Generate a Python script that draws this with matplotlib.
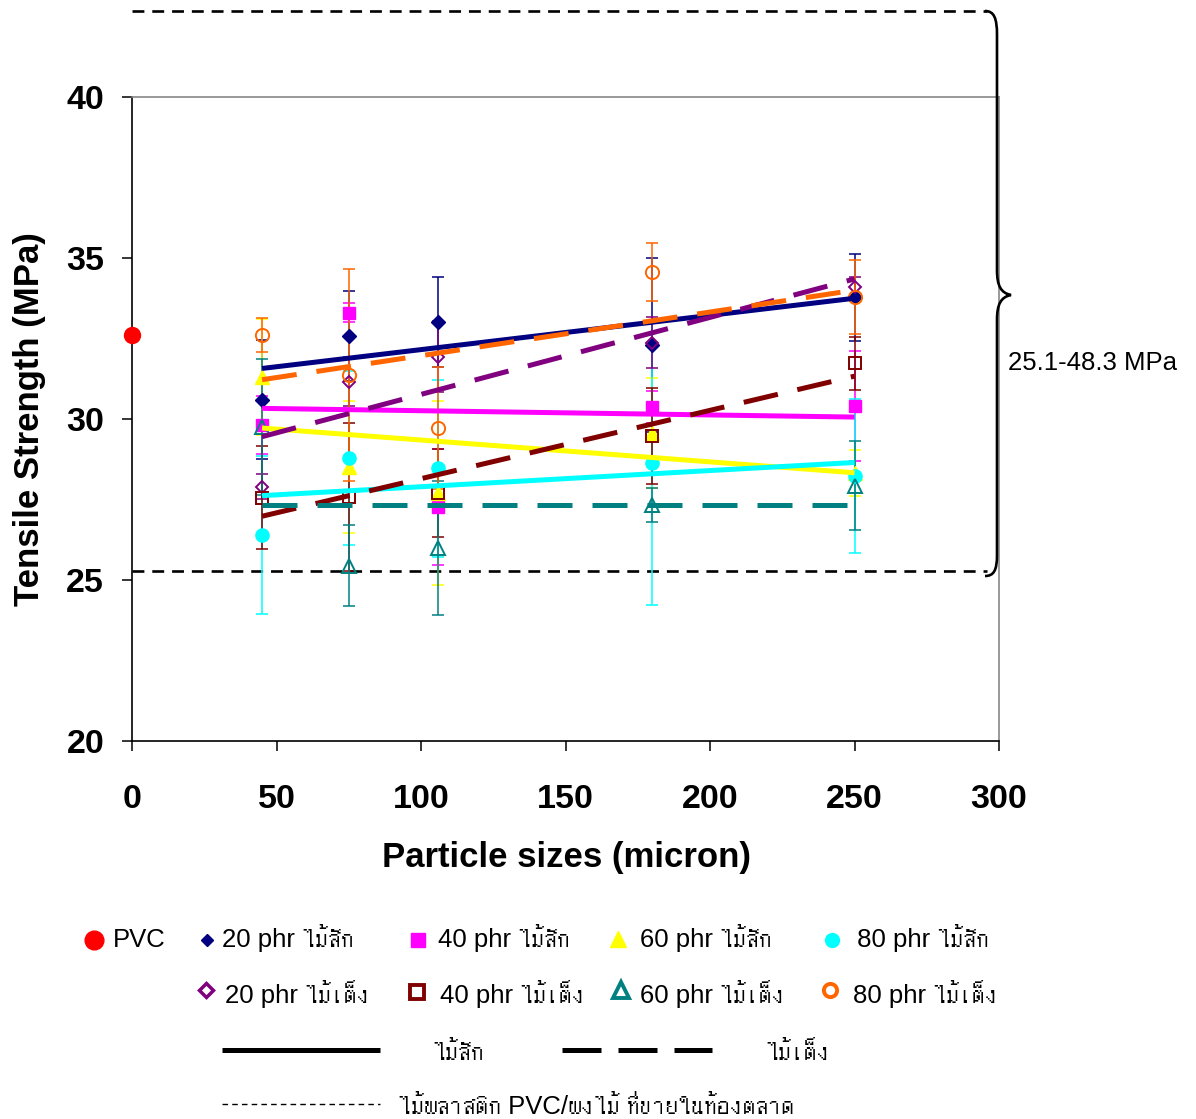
import numpy as np
import matplotlib
matplotlib.use("Agg")
import matplotlib.pyplot as plt
from matplotlib import font_manager as fm
from matplotlib.ft2font import FT2Font
from matplotlib.path import Path
from matplotlib.patches import PathPatch

# ---------------- data ----------------
x_sizes = [45, 75, 106, 180, 250]
pvc_x = [0]
pvc_y = [32.6]

teak20 = [30.6, 32.58, 33.02, 32.3, 33.78]
teak20_err = [1.85, 1.4, 1.4, 2.7, 1.35]
teak40 = [29.8, 33.3, 27.28, 30.38, 30.41]
teak40_err = [0.9, 0.3, 1.8, 0.5, 1.7]
teak60 = [31.3, 28.52, 27.7, 29.56, 28.33]
teak60_err = [1.8, 2.05, 2.85, 1.7, 0.72]
teak80 = [26.4, 28.79, 28.47, 28.62, 28.23]
teak80_err = [2.45, 2.7, 2.75, 4.4, 2.4]
teng20 = [27.9, 31.16, 31.93, 32.37, 34.1]
teng20_err = [0.4, 0.75, 1.1, 0.8, 0.3]
teng40 = [27.55, 27.59, 27.69, 29.47, 31.73]
teng40_err = [1.6, 2.3, 1.37, 1.5, 0.82]
teng60 = [29.75, 25.45, 25.99, 27.34, 27.93]
teng60_err = [2.1, 1.25, 2.07, 0.53, 1.38]
teng80 = [32.6, 31.37, 29.73, 34.57, 33.78]
teng80_err = [0.53, 3.3, 1.9, 0.9, 1.15]

# trend lines (start / end values)
trend_x = [45, 250]
teak20_trend = [31.57, 33.75]
teak40_trend = [30.33, 30.06]
teak60_trend = [29.72, 28.33]
teak80_trend = [27.62, 28.65]
teng20_trend = [29.45, 34.35]
teng40_trend = [26.98, 31.33]
teng60_trend = [27.33, 27.33]
teng80_trend = [31.22, 34.0]

# market reference band
ref_x = [0, 296]
ref_low = 25.28
ref_high = 42.67
ref_text = "25.1-48.3 MPa"

x_ticks = [0, 50, 100, 150, 200, 250, 300]
y_ticks = [20, 25, 30, 35, 40]
x_label = "Particle sizes (micron)"
y_label = "Tensile Strength (MPa)"

legend_labels = ["PVC", "20 phr ไม้สัก", "40 phr ไม้สัก", "60 phr ไม้สัก", " 80 phr ไม้สัก",
                 "20 phr ไม้เต็ง", "40 phr ไม้เต็ง", "60 phr ไม้เต็ง", "80 phr ไม้เต็ง"]
legend_teak = "ไม้สัก"
legend_teng = "ไม้เต็ง"
legend_market = "ไม้พลาสติก PVC/ผงไม้ ที่ขายในท้องตลาด"

# ---------------- fonts ----------------
def find_thai_family():
    cands = []
    for f in fm.fontManager.ttflist:
        try:
            cmap = FT2Font(f.fname).get_charmap()
        except Exception:
            continue
        if all(c in cmap for c in (0x0E44, 0x0E49, 0x0E2A, 0x0E31, 0x0E01)):
            score = 0
            if str(f.weight) in ("400", "normal", "regular", "book"):
                score += 2
            if f.style == "normal":
                score += 1
            cands.append((score, f.name))
    if cands:
        cands.sort(reverse=True)
        return cands[0][1]
    return None

thai = find_thai_family()
fam = ["Liberation Sans"] + ([thai] if thai else []) + ["DejaVu Sans"]
plt.rcParams["font.family"] = fam

# ---------------- figure ----------------
W, H = 1196, 1119
fig = plt.figure(figsize=(W / 100, H / 100), dpi=100)
ax = fig.add_axes([132 / W, 1 - 741 / H, 867 / W, 644 / H])
ax.set_xlim(0, 300)
ax.set_ylim(20, 40)

series = [
    (teak20, teak20_err, "#000080", "D", 7.0, True),
    (teak40, teak40_err, "#FF00FF", "s", 9.0, True),
    (teak60, teak60_err, "#FFFF00", "^", 10.0, True),
    (teak80, teak80_err, "#00FFFF", "o", 9.5, True),
    (teng20, teng20_err, "#800080", "D", 6.3, False),
    (teng40, teng40_err, "#800000", "s", 8.5, False),
    (teng60, teng60_err, "#008080", "^", 10.0, False),
    (teng80, teng80_err, "#FF6600", "o", 9.5, False),
]

ax.plot(pvc_x, pvc_y, "o", color="#FF0000", ms=11.5, clip_on=False, zorder=6)

for vals, errs, col, mk, ms, filled in series:
    ax.errorbar(x_sizes, vals, yerr=errs, fmt="none", ecolor=col, elinewidth=1.1,
                capsize=4.6, capthick=1.1, zorder=3)
    if filled:
        ax.plot(x_sizes, vals, mk, color=col, ms=ms, mec=col, zorder=4)
    else:
        ax.plot(x_sizes, vals, mk, mfc="none", mec=col, ms=ms, mew=1.4, zorder=4)

trends = [
    (teak20_trend, "#000080", True), (teak40_trend, "#FF00FF", True),
    (teak60_trend, "#FFFF00", True), (teak80_trend, "#00FFFF", True),
    (teng20_trend, "#800080", False), (teng40_trend, "#800000", False),
    (teng60_trend, "#008080", False), (teng80_trend, "#FF6600", False),
]
for tv, col, solid in trends:
    if solid:
        ax.plot(trend_x, tv, color=col, lw=3.6, solid_capstyle="butt", zorder=5)
    else:
        ax.plot(trend_x, tv, color=col, lw=3.6, dashes=(7, 4), dash_capstyle="butt", zorder=5)

# reference band dashed lines
for yv in (ref_low, ref_high):
    ax.plot(ref_x, [yv, yv], color="black", lw=1.9, dashes=(4.5, 3.0),
            dash_capstyle="butt", clip_on=False, zorder=2)

# spines & ticks
for s in ("left", "bottom"):
    ax.spines[s].set_color("black")
    ax.spines[s].set_linewidth(1.2)
for s in ("top", "right"):
    ax.spines[s].set_color("#888888")
    ax.spines[s].set_linewidth(1.2)

ax.set_xticks(x_ticks)
ax.set_yticks(y_ticks)
ax.set_xticklabels([str(t) for t in x_ticks], fontsize=24.5, fontweight="bold")
ax.set_yticklabels([str(t) for t in y_ticks], fontsize=24.5, fontweight="bold")
ax.tick_params(axis="x", direction="out", length=7, width=1.1, pad=24, top=False)
ax.tick_params(axis="y", direction="out", length=7, width=1.1, pad=13, right=False)

ax.set_xlabel(x_label, fontsize=25, fontweight="bold")
ax.set_ylabel(y_label, fontsize=25, fontweight="bold")
ax.xaxis.label.set_va("center")
ax.yaxis.label.set_va("center")
ax.xaxis.set_label_coords((567 - 132) / 867, (741 - 858) / 644)
ax.yaxis.set_label_coords((30 - 132) / 867, 0.5)

# ---------------- overlay (brace + legend), pixel coordinates ----------------
ov = fig.add_axes([0, 0, 1, 1], zorder=10)
ov.set_xlim(0, W)
ov.set_ylim(H, 0)
ov.axis("off")
ov.patch.set_alpha(0)

verts = [(985, 11), (994, 11), (997, 18), (997, 35),
         (997, 270),
         (997, 286), (1001, 293), (1011, 295),
         (1001, 297), (997, 304), (997, 320),
         (997, 555),
         (997, 570), (994, 576), (985, 576)]
codes = [Path.MOVETO, Path.CURVE4, Path.CURVE4, Path.CURVE4,
         Path.LINETO,
         Path.CURVE4, Path.CURVE4, Path.CURVE4,
         Path.CURVE4, Path.CURVE4, Path.CURVE4,
         Path.LINETO,
         Path.CURVE4, Path.CURVE4, Path.CURVE4]
ov.add_patch(PathPatch(Path(verts, codes), fc="none", ec="black", lw=1.9))
ov.text(1008, 363, ref_text, fontsize=18.5, ha="left", va="center", family=fam)

txt_kw = dict(fontsize=18.5, ha="left", va="baseline", family=fam, fontweight="normal")
row1, row2 = 947, 1003
# row 1 markers
ov.plot([94], [940], "o", color="#FF0000", ms=13.5)
ov.plot([207], [940], "D", color="#000080", ms=6)
ov.plot([418], [940], "s", color="#FF00FF", ms=9.5)
ov.plot([618], [939], "^", color="#FFFF00", ms=12)
ov.plot([832], [940], "o", color="#00FFFF", ms=10)
# row 2 markers
ov.plot([206], [990], "D", mfc="none", mec="#800080", mew=2.5, ms=7)
ov.plot([417], [992], "s", mfc="none", mec="#800000", mew=2.8, ms=9.5)
ov.plot([621], [990], "^", mfc="none", mec="#008080", mew=2.8, ms=12)
ov.plot([830], [990], "o", mfc="none", mec="#FF6600", mew=2.8, ms=9.5)

xs1 = [113, 222, 438, 640, 850]
xs2 = [225, 440, 640, 853]
for xx, lab in zip(xs1, legend_labels[:5]):
    ov.text(xx, row1, lab, **txt_kw)
for xx, lab in zip(xs2, legend_labels[5:]):
    ov.text(xx, row2, lab, **txt_kw)

# row 3: line styles
ov.plot([222, 380], [1050, 1050], color="black", lw=3.6, solid_capstyle="butt")
ov.plot([562, 712], [1050, 1050], color="black", lw=3.6, dashes=(7.8, 3.4), dash_capstyle="butt")
ov.text(432, 1060, legend_teak, **txt_kw)
ov.text(765, 1060, legend_teng, **txt_kw)
# row 4: market
ov.plot([222, 380], [1104, 1104], color="black", lw=1.0, dashes=(4, 3), dash_capstyle="butt")
ov.text(398, 1114, legend_market, **txt_kw)

fig.savefig("out.png", dpi=100)
